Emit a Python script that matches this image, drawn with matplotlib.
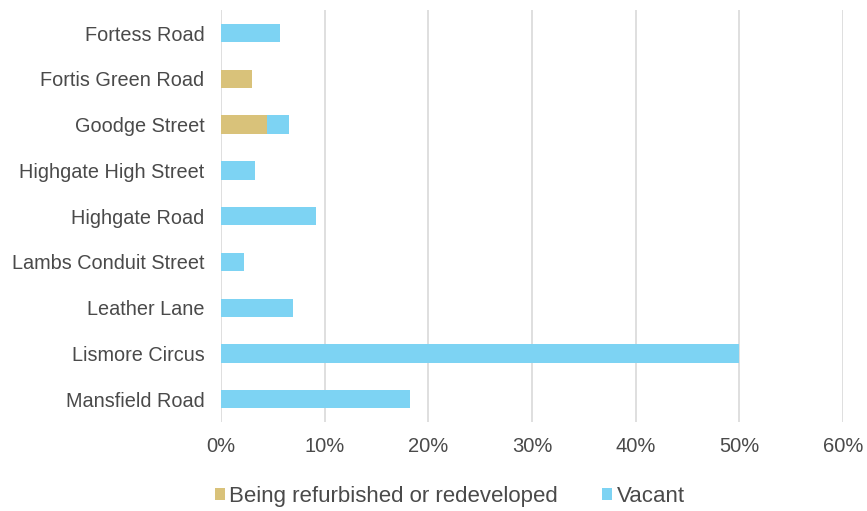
import matplotlib
matplotlib.use("Agg")
import matplotlib.pyplot as plt
import numpy as np

STREETS = ["Fortess Road", "Fortis Green Road", "Goodge Street",
           "Highgate High Street", "Highgate Road", "Lambs Conduit Street",
           "Leather Lane", "Lismore Circus", "Mansfield Road"]
REFURB = [0.0, 3.0, 4.4, 0.0, 0.0, 0.0, 0.0, 0.0, 0.0]
VACANT = [5.7, 0.0, 2.2, 3.3, 9.2, 2.2, 6.9, 50.0, 18.2]
XTICKS = [0, 10, 20, 30, 40, 50, 60]

C_REF = "#D9C27A"
C_VAC = "#7DD3F3"
C_TXT = "#4a4a4a"

plt.rcParams["font.family"] = ["Liberation Sans", "DejaVu Sans"]


def main():
    fig = plt.figure(figsize=(8.67, 5.11), dpi=100)
    ax = fig.add_axes([0.255, 0.174, 0.717, 0.806])

    y = np.arange(len(STREETS))
    h = 0.4
    ref = np.array(REFURB)
    vac = np.array(VACANT)
    ax.barh(y, ref, height=h, color=C_REF, label="Being refurbished or redeveloped", zorder=3)
    ax.barh(y, vac, left=ref, height=h, color=C_VAC, label="Vacant", zorder=3)

    ax.set_ylim(len(STREETS) - 0.5, -0.5)
    ax.set_xlim(0, 60)
    ax.set_yticks(y)
    ax.set_yticklabels(STREETS, fontsize=14.3, color=C_TXT)
    ax.set_xticks(XTICKS)
    ax.set_xticklabels([f"{t}%" for t in XTICKS], fontsize=14.5, color=C_TXT)
    ax.tick_params(axis="y", length=0, pad=12)
    ax.tick_params(axis="x", length=0, pad=11)

    ax.grid(axis="x", color="#d9d9d9", lw=1.2, zorder=0)
    ax.set_axisbelow(True)
    for s in ax.spines.values():
        s.set_visible(False)

    ax.legend(loc="center", bbox_to_anchor=(0.368, -0.18), ncol=2,
              frameon=False, fontsize=16, handlelength=0.45, handleheight=0.45,
              handletextpad=0.2, columnspacing=2.0, labelcolor=C_TXT)

    fig.savefig("out.png", dpi=100)


if __name__ == "__main__":
    main()
